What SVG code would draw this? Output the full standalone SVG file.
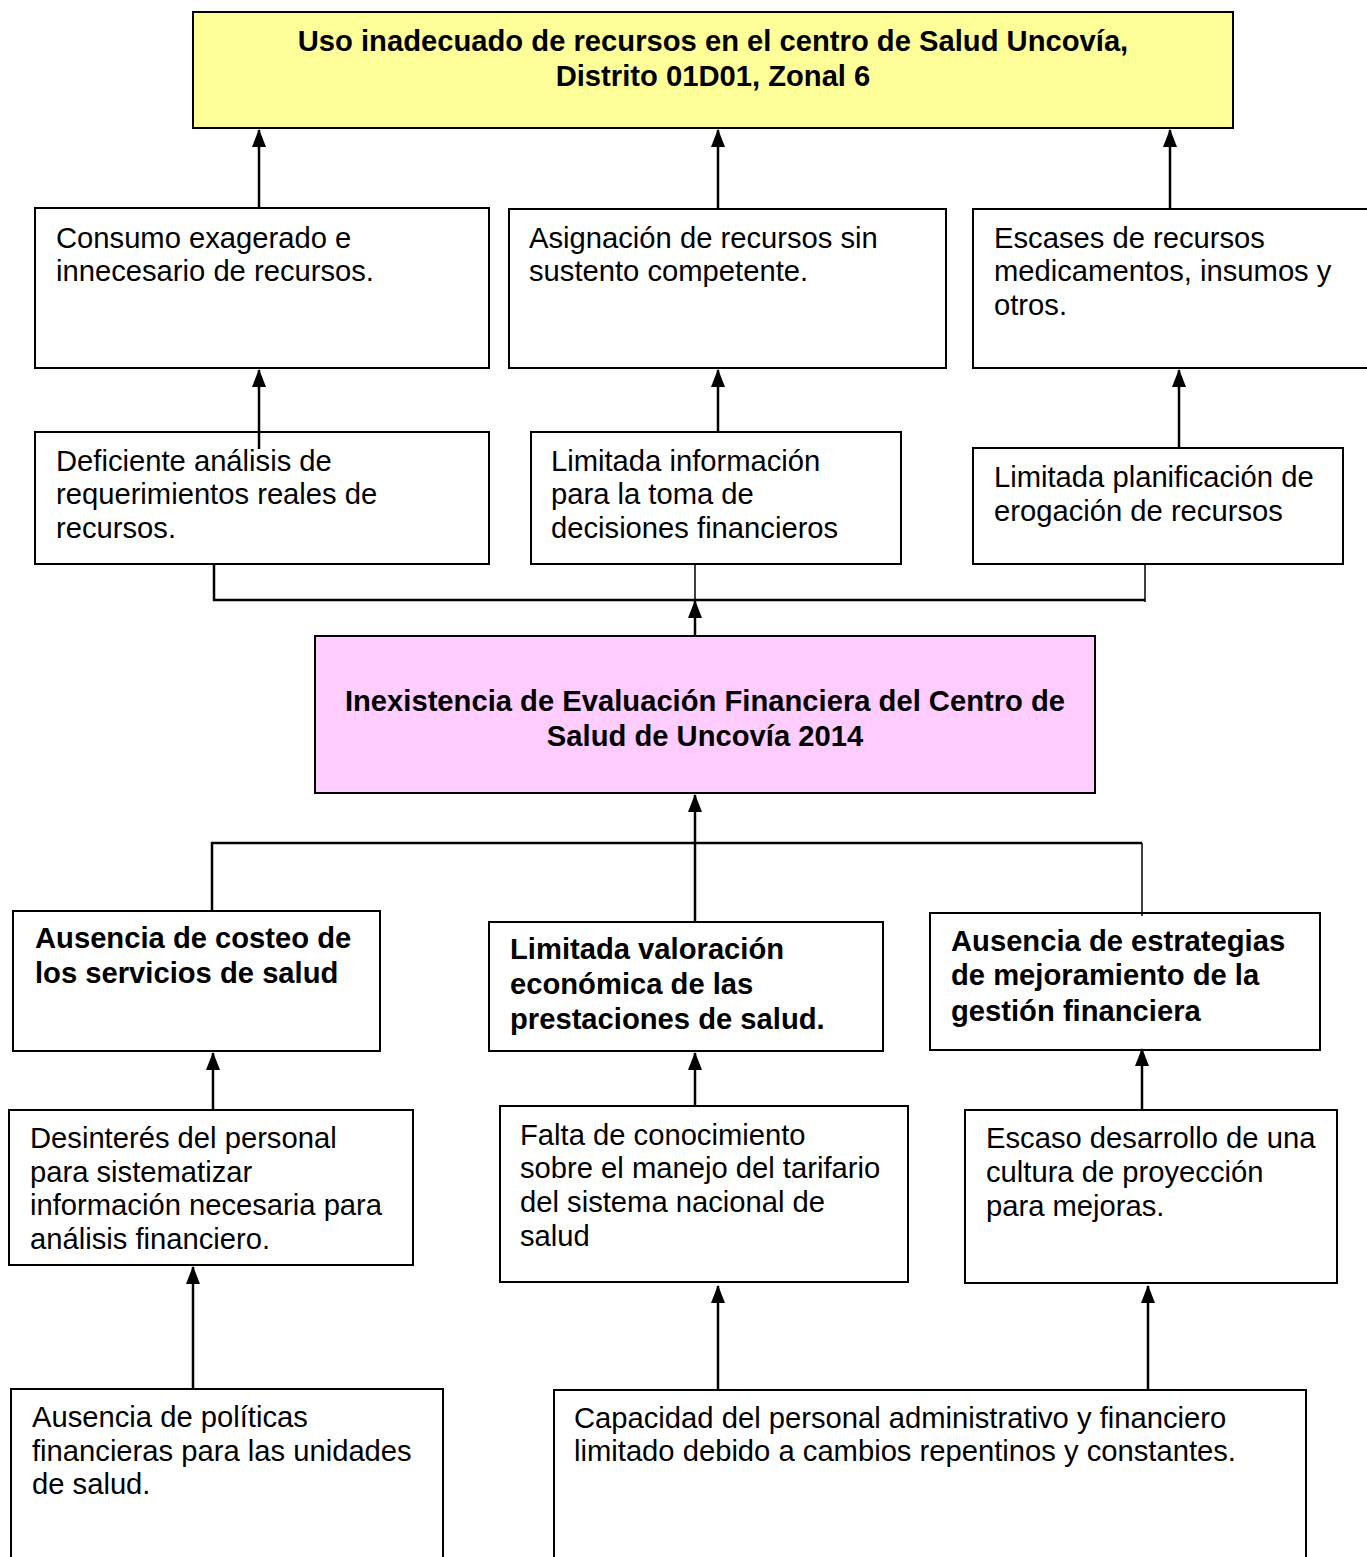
<svg xmlns="http://www.w3.org/2000/svg" width="1367" height="1557" viewBox="0 0 1367 1557">
<style>
.box{fill:#fff;stroke:#000;stroke-width:2}
.t{font-family:"Liberation Sans",Arial,sans-serif;font-size:29.2px;fill:#000}
.b{font-weight:bold}
.c{text-anchor:middle}
.ln{stroke:#000;stroke-width:2.5;fill:none}
.th{stroke:#000;stroke-width:1.5;fill:none}
.ar{stroke:#000;stroke-width:2.5;fill:none;marker-end:url(#ah)}
</style>
<defs>
<marker id="ah" markerUnits="userSpaceOnUse" markerWidth="18" markerHeight="14" viewBox="0 0 18 14" refX="17" refY="7" orient="auto">
<path d="M0 0 L18 7 L0 14 Z" fill="#000"/>
</marker>
</defs>
<rect width="1367" height="1557" fill="#fff"/>

<g id="top">
<rect x="193" y="12" width="1040" height="116" fill="#FFFF99" stroke="#000" stroke-width="2"/>
<text class="t b c" x="713" y="51">Uso inadecuado de recursos en el centro de Salud Uncovía,</text>
<text class="t b c" x="713" y="86">Distrito 01D01, Zonal 6</text>
</g>

<g id="n-consumo">
<rect class="box" x="35" y="208" width="454" height="160"/>
<text class="t" x="56" y="248">Consumo exagerado e</text>
<text class="t" x="56" y="281">innecesario de recursos.</text>
</g>
<g id="n-asignacion">
<rect class="box" x="509" y="209" width="437" height="159"/>
<text class="t" x="529" y="248">Asignación de recursos sin</text>
<text class="t" x="529" y="281">sustento competente.</text>
</g>
<g id="n-escases">
<rect class="box" x="973" y="209" width="400" height="159"/>
<text class="t" x="994" y="248">Escases de recursos</text>
<text class="t" x="994" y="281">medicamentos, insumos y</text>
<text class="t" x="994" y="315">otros.</text>
</g>

<g id="n-deficiente">
<rect class="box" x="35" y="432" width="454" height="132"/>
<text class="t" x="56" y="471">Deficiente análisis de</text>
<text class="t" x="56" y="504">requerimientos reales de</text>
<text class="t" x="56" y="538">recursos.</text>
</g>
<g id="n-limitada-info">
<rect class="box" x="531" y="432" width="370" height="132"/>
<text class="t" x="551" y="471">Limitada información</text>
<text class="t" x="551" y="504">para la toma de</text>
<text class="t" x="551" y="538">decisiones financieros</text>
</g>
<g id="n-limitada-plan">
<rect class="box" x="973" y="448" width="370" height="116"/>
<text class="t" x="994" y="487">Limitada planificación de</text>
<text class="t" x="994" y="521">erogación de recursos</text>
</g>

<g id="n-central">
<rect x="315" y="636" width="780" height="157" fill="#FFCCFF" stroke="#000" stroke-width="2"/>
<text class="t b c" x="705" y="711">Inexistencia de Evaluación Financiera del Centro de</text>
<text class="t b c" x="705" y="746">Salud de Uncovía 2014</text>
</g>

<g id="n-costeo">
<rect class="box" x="13" y="911" width="367" height="140"/>
<text class="t b" x="35" y="948">Ausencia de costeo de</text>
<text class="t b" x="35" y="983">los servicios de salud</text>
</g>
<g id="n-valoracion">
<rect class="box" x="489" y="922" width="394" height="129"/>
<text class="t b" x="510" y="959">Limitada valoración</text>
<text class="t b" x="510" y="994">económica de las</text>
<text class="t b" x="510" y="1029">prestaciones de salud.</text>
</g>
<g id="n-estrategias">
<rect class="box" x="930" y="913" width="390" height="137"/>
<text class="t b" x="951" y="951">Ausencia de estrategias</text>
<text class="t b" x="951" y="985">de mejoramiento de la</text>
<text class="t b" x="951" y="1021">gestión financiera</text>
</g>

<g id="n-desinteres">
<rect class="box" x="9" y="1110" width="404" height="155"/>
<text class="t" x="30" y="1148">Desinterés del personal</text>
<text class="t" x="30" y="1182">para sistematizar</text>
<text class="t" x="30" y="1215">información necesaria para</text>
<text class="t" x="30" y="1249">análisis financiero.</text>
</g>
<g id="n-falta">
<rect class="box" x="500" y="1106" width="408" height="176"/>
<text class="t" x="520" y="1145">Falta de conocimiento</text>
<text class="t" x="520" y="1178">sobre el manejo del tarifario</text>
<text class="t" x="520" y="1212">del sistema nacional de</text>
<text class="t" x="520" y="1246">salud</text>
</g>
<g id="n-escaso">
<rect class="box" x="965" y="1110" width="372" height="173"/>
<text class="t" x="986" y="1148">Escaso desarrollo de una</text>
<text class="t" x="986" y="1182">cultura de proyección</text>
<text class="t" x="986" y="1216">para mejoras.</text>
</g>

<g id="n-politicas">
<rect class="box" x="11" y="1389" width="432" height="180"/>
<text class="t" x="32" y="1427">Ausencia de políticas</text>
<text class="t" x="32" y="1461">financieras para las unidades</text>
<text class="t" x="32" y="1494">de salud.</text>
</g>
<g id="n-capacidad">
<rect class="box" x="554" y="1390" width="752" height="180"/>
<text class="t" x="574" y="1428">Capacidad del personal administrativo y financiero</text>
<text class="t" x="574" y="1461">limitado debido a cambios repentinos y constantes.</text>
</g>

<g id="connectors">
<line class="ar" x1="259" y1="208" x2="259" y2="130"/>
<line class="ar" x1="718" y1="209" x2="718" y2="130"/>
<line class="ar" x1="1170" y1="209" x2="1170" y2="130"/>

<line class="ar" x1="259" y1="449" x2="259" y2="370"/>
<line class="ar" x1="718" y1="432" x2="718" y2="370"/>
<line class="ar" x1="1179" y1="448" x2="1179" y2="370"/>

<polyline class="ln" points="214,565 214,600 1145,600"/>
<line class="th" x1="1145" y1="565" x2="1145" y2="602"/>
<line class="th" x1="695" y1="565" x2="695" y2="600"/>
<line class="ar" x1="695" y1="635" x2="695" y2="601"/>

<line class="ar" x1="695" y1="921" x2="695" y2="795"/>
<polyline class="ln" points="212,910 212,843 1142,843"/>
<line class="th" x1="1142" y1="843" x2="1142" y2="916"/>

<line class="ar" x1="213" y1="1109" x2="213" y2="1053"/>
<line class="ar" x1="695" y1="1105" x2="695" y2="1053"/>
<line class="ar" x1="1142" y1="1109" x2="1142" y2="1049"/>

<line class="ar" x1="193" y1="1388" x2="193" y2="1267"/>
<line class="ar" x1="718" y1="1389" x2="718" y2="1286"/>
<line class="ar" x1="1148" y1="1389" x2="1148" y2="1286"/>
</g>
</svg>
